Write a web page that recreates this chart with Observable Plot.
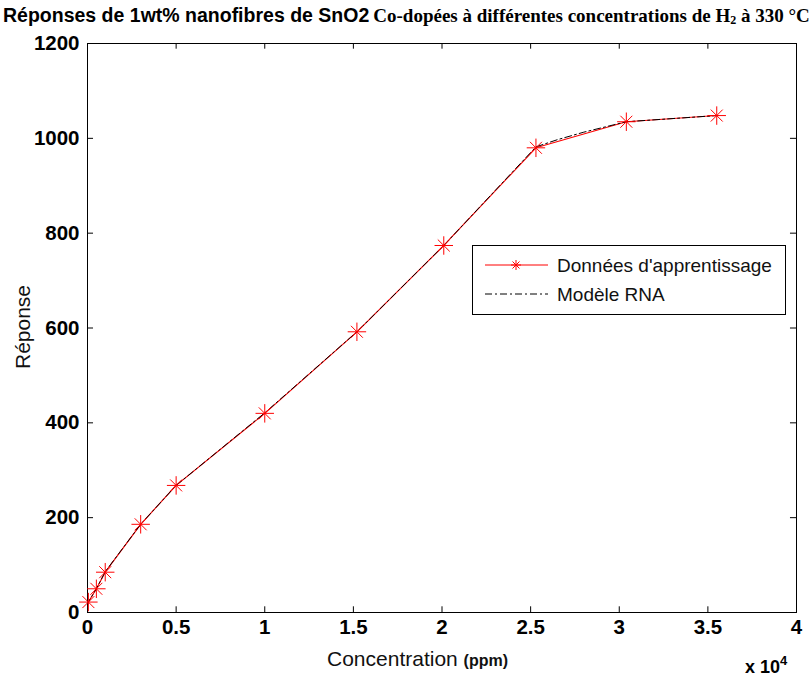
<!DOCTYPE html>
<html>
<head>
<meta charset="utf-8">
<script src="https://cdn.jsdelivr.net/npm/d3@7"></script>
<script src="https://cdn.jsdelivr.net/npm/@observablehq/plot@0.6"></script>
<style>
  body { margin: 0; background: #fff; width: 812px; height: 682px; overflow: hidden; }
  #title { height: 28px; line-height: 30px; white-space: nowrap; padding-left: 3px; color: #000; }
  #title .a { font-family: "Liberation Sans", Arial, sans-serif; font-weight: bold; font-size: 19.5px; }
  #title .b { font-family: "Liberation Serif", "Times New Roman", serif; font-weight: bold; font-size: 19px; }
  svg { display: block; }
</style>
</head>
<body>
<div id="title"><span class="a">Réponses de 1wt% nanofibres de SnO2</span> <span class="b">Co-dopées à différentes concentrations de H<sub style="font-size:12px;vertical-align:-2px">2</sub> à 330 °C</span></div>
<div id="chart"></div>
<script>
// Training data (Données d'apprentissage)
const concentration = [50, 500, 1000, 3000, 5000, 10000, 15200, 20100, 25300, 30400, 35500];
const reponse = [22, 50, 85, 186, 268, 420, 592, 774, 980, 1035, 1048];
// ANN model (Modèle RNA)
const modelConcentration = [0, 50, 500, 1000, 3000, 5000, 10000, 15200, 20100, 25300, 26500, 28000, 30400, 35500];
const modelReponse = [15, 22, 50, 86, 186, 268, 421, 592, 774, 982, 997, 1013, 1035, 1048];
// Tick labels
const xTicks = [0, 5000, 10000, 15000, 20000, 25000, 30000, 35000, 40000];
const yTicks = [0, 200, 400, 600, 800, 1000, 1200];

const data = concentration.map((c, i) => ({x: c, y: reponse[i]}));
const model = modelConcentration.map((c, i) => ({x: c, y: modelReponse[i]}));

const W = 812, H = 654;
const plot = Plot.plot({
  width: W, height: H,
  marginLeft: 87, marginRight: 16, marginTop: 15, marginBottom: 70,
  style: {fontFamily: "'Liberation Sans', Arial, sans-serif", fontSize: "20.5px", fontWeight: "bold", color: "#000", background: "#fff"},
  x: {domain: [0, 40000], label: null},
  y: {domain: [0, 1200], label: null},
  marks: [
    Plot.frame({stroke: "#000", strokeWidth: 1}),
    Plot.ruleX(xTicks, {x: d => d, y1: 0, y2: 12, stroke: "#000"}),
    Plot.ruleX(xTicks, {x: d => d, y1: 1188, y2: 1200, stroke: "#000"}),
    Plot.ruleY(yTicks, {y: d => d, x1: 0, x2: 340, stroke: "#000"}),
    Plot.ruleY(yTicks, {y: d => d, x1: 39660, x2: 40000, stroke: "#000"}),
    Plot.axisX({ticks: xTicks, tickFormat: d => String(d / 1e4), tickSize: 0, tickPadding: 7}),
    Plot.axisY({ticks: yTicks, tickFormat: d => String(d), tickSize: 0, tickPadding: 8}),
    Plot.line(data, {x: "x", y: "y", stroke: "#ff0000", strokeWidth: 1.1}),
    Plot.line(model, {x: "x", y: "y", stroke: "#000", strokeWidth: 1, strokeDasharray: "7,3,2,3"}),
    Plot.dot(data, {x: "x", y: "y", symbol: "plus", r: 6, stroke: "#ff0000", strokeWidth: 1}),
    Plot.dot(data, {x: "x", y: "y", symbol: "times", r: 5.5, stroke: "#ff0000", strokeWidth: 1})
  ]
});
document.getElementById("chart").appendChild(plot);

const svg = d3.select(plot);
const lab = "'Liberation Sans', Arial, sans-serif";
// y label
svg.append("text").attr("transform", "translate(30,299) rotate(-90)")
  .attr("text-anchor", "middle").attr("font-family", lab).attr("font-size", 21)
  .attr("font-weight", "normal").attr("fill", "#111").text("Réponse");
// x label
const xl = svg.append("text").attr("x", 327).attr("y", 638).attr("text-anchor", "start").attr("font-family", lab).attr("fill", "#111");
xl.append("tspan").attr("font-size", 21).attr("font-weight", "normal").text("Concentration ");
xl.append("tspan").attr("font-size", 16).attr("font-weight", "bold").text("(ppm)");
// exponent
const ex = svg.append("text").attr("x", 745).attr("y", 645).attr("text-anchor", "start").attr("font-family", lab).attr("font-weight", "bold").attr("fill", "#000");
ex.append("tspan").attr("font-size", 18).text("x 10");
ex.append("tspan").attr("font-size", 13).attr("dy", -8).text("4");

// legend
const lg = svg.append("g");
lg.append("rect").attr("x", 472.5).attr("y", 217.5).attr("width", 313).attr("height", 69)
  .attr("fill", "#fff").attr("stroke", "#000");
lg.append("line").attr("x1", 485).attr("x2", 548).attr("y1", 237).attr("y2", 237).attr("stroke", "#ff0000");
const sx = 516, sy = 237;
lg.append("path").attr("d", `M${sx-5},${sy}H${sx+5}M${sx},${sy-5}V${sy+5}M${sx-3.5},${sy-3.5}L${sx+3.5},${sy+3.5}M${sx-3.5},${sy+3.5}L${sx+3.5},${sy-3.5}`)
  .attr("stroke", "#ff0000").attr("fill", "none");
lg.append("line").attr("x1", 485).attr("x2", 548).attr("y1", 266).attr("y2", 266)
  .attr("stroke", "#000").attr("stroke-dasharray", "7,3,2,3");
lg.append("text").attr("x", 557).attr("y", 244).attr("text-anchor", "start").attr("font-family", lab).attr("font-size", 19)
  .attr("font-weight", "normal").attr("fill", "#111").text("Données d'apprentissage");
lg.append("text").attr("x", 557).attr("y", 273).attr("text-anchor", "start").attr("font-family", lab).attr("font-size", 19)
  .attr("font-weight", "normal").attr("fill", "#111").text("Modèle RNA");
</script>
</body>
</html>
